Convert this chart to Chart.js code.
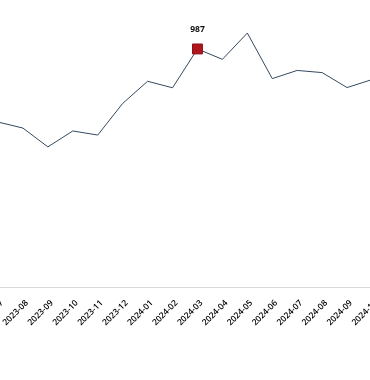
<!DOCTYPE html>
<html>
<head>
<meta charset="utf-8">
<script src="https://cdn.jsdelivr.net/npm/chart.js@4"></script>
<style>
  html, body { margin: 0; padding: 0; background: #fff; overflow: hidden; width: 370px; height: 380px; }
  #wrap { position: absolute; left: -2px; top: 0; width: 374px; height: 380px; }
</style>
</head>
<body>
<div id="wrap"><canvas id="c"></canvas></div>
<script>
const months = ['2023-07','2023-08','2023-09','2023-10','2023-11','2023-12','2024-01','2024-02','2024-03','2024-04','2024-05','2024-06','2024-07','2024-08','2024-09','2024-10'];
const values = [684, 659, 581, 647, 630, 761, 853, 826, 987, 944, 1053, 864, 898, 889, 827, 860];
const highlightLabel = '2024-03';

const hiIdx = months.indexOf(highlightLabel);

const valueLabelPlugin = {
  id: 'valueLabel',
  afterDatasetsDraw(chart) {
    const meta = chart.getDatasetMeta(0);
    const pt = meta.data[hiIdx];
    if (!pt) return;
    const ctx = chart.ctx;
    ctx.save();
    ctx.font = 'bold 8.5px "Open Sans", sans-serif';
    ctx.fillStyle = '#111';
    ctx.textAlign = 'center';
    ctx.textBaseline = 'middle';
    ctx.fillText(String(values[hiIdx]), pt.x, pt.y - 19);
    ctx.restore();
  }
};

new Chart(document.getElementById('c'), {
  type: 'line',
  data: {
    labels: months,
    datasets: [{
      data: values,
      borderColor: '#34495e',
      borderWidth: 1,
      tension: 0,
      fill: false,
      pointRadius: months.map((m, i) => i === hiIdx ? 7 : 0),
      pointHoverRadius: months.map((m, i) => i === hiIdx ? 7 : 0),
      pointStyle: 'rect',
      pointBackgroundColor: '#b0151c',
      pointBorderColor: '#8a1015',
      pointBorderWidth: 1
    }]
  },
  options: {
    responsive: true,
    maintainAspectRatio: false,
    animation: false,
    layout: { padding: 0 },
    plugins: { legend: { display: false }, tooltip: { enabled: false } },
    scales: {
      x: {
        offset: false,
        grid: { display: false },
        border: { display: true, color: '#d9d9d9', width: 1 },
        ticks: {
          autoSkip: false,
          maxRotation: 45,
          minRotation: 45,
          labelOffset: 4,
          color: '#000',
          font: { family: '"Open Sans", sans-serif', size: 8.5, weight: '600' }
        },
        afterFit(s) { s.paddingLeft = 0; s.paddingRight = 0; s.height = 93; }
      },
      y: {
        display: false,
        min: 0,
        max: 1190
      }
    }
  },
  plugins: [valueLabelPlugin]
});
</script>
</body>
</html>
